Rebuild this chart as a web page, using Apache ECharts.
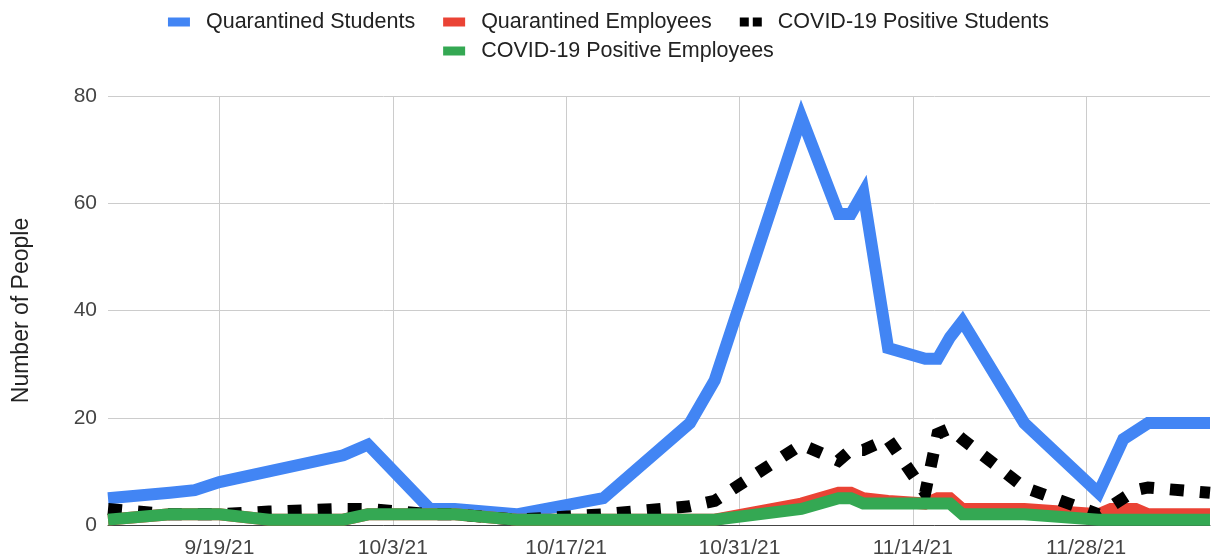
<!DOCTYPE html>
<html>
<head>
<meta charset="utf-8">
<script src="https://cdn.jsdelivr.net/npm/echarts@6/dist/echarts.min.js"></script>
<style>
  html, body { margin: 0; padding: 0; background: #fff; }
  #chart { width: 1217px; height: 560px; }
</style>
</head>
<body>
<div id="chart"></div>
<script>
// report dates
const dates = ['2021-09-10', '2021-09-15', '2021-09-17', '2021-09-19', '2021-09-23', '2021-09-29',
  '2021-10-01', '2021-10-06', '2021-10-08', '2021-10-13', '2021-10-20', '2021-10-27', '2021-10-29',
  '2021-11-05', '2021-11-08', '2021-11-09', '2021-11-10', '2021-11-12', '2021-11-15', '2021-11-16',
  '2021-11-17', '2021-11-18', '2021-11-23', '2021-11-29', '2021-11-30', '2021-12-01', '2021-12-02',
  '2021-12-03', '2021-12-08']

const quarantinedStudents = [5, 6, 6.5, 8, 10, 13, 15, 3, 3, 2, 5, 19, 27,
  76, 58, 58, 62, 33, 31, 31, 35, 38, 19, 6, 11, 16, 17.5, 19, 19]
const quarantinedEmployees = [1, 2, 2, 2, 1, 1, 2, 2, 2, 1, 1, 1, 1,
  4, 6, 6, 5, 4.5, 4, 5, 5, 3, 3, 2, 3, 3, 3, 2, 2]
const positiveStudents = [3, 2, 2, 2, 2.5, 3, 3, 2, 2, 1, 2, 3.5, 4.5,
  15, 12, 14, 14, 16, 6, 17, 18, 16, 7, 2, 3.5, 5, 6.5, 7, 6]
const positiveEmployees = [1, 2, 2, 2, 1, 1, 2, 2, 2, 1, 1, 1, 1,
  3, 5, 5, 4, 4, 4, 4, 4, 2, 2, 1, 1, 1, 1, 1, 1]

const xTicks = ['2021-09-19', '2021-10-03', '2021-10-17', '2021-10-31', '2021-11-14', '2021-11-28']
const yTicks = [0, 20, 40, 60, 80]
const xRange = ['2021-09-10', '2021-12-08']

const FONT = "'Liberation Sans', Arial, sans-serif"

function toTime(s) {
  const p = s.split('-').map(Number)
  return new Date(p[0], p[1] - 1, p[2]).getTime()
}
function pairs(values) {
  return dates.map((d, i) => [toTime(d), values[i]])
}

const chart = echarts.init(document.getElementById('chart'))

const lineBase = {
  type: 'line',
  showSymbol: false,
  symbol: 'none',
  animation: false
}

const legendText = { fontSize: 21.5, color: '#222', fontFamily: FONT, padding: [0, 0, 0, 11] }

chart.setOption({
  animation: false,
  legend: [{
    top: 6,
    left: 'center',
    itemWidth: 22,
    itemHeight: 9,
    itemGap: 28,
    textStyle: legendText,
    data: [
      { name: 'Quarantined Students', icon: 'rect' },
      { name: 'Quarantined Employees', icon: 'rect' },
      { name: 'COVID-19 Positive Students', icon: 'path://M0,0h9v9h-9z M13,0h9v9h-9z' }
    ]
  }, {
    top: 35,
    left: 'center',
    itemWidth: 22,
    itemHeight: 9,
    textStyle: legendText,
    data: [
      { name: 'COVID-19 Positive Employees', icon: 'rect' }
    ]
  }],
  grid: {
    left: 108,
    right: 7,
    top: 96,
    bottom: 35,
    containLabel: false
  },
  xAxis: {
    type: 'value',
    min: toTime(xRange[0]),
    max: toTime(xRange[1]),
    axisLine: { show: true, lineStyle: { color: '#444', width: 1 } },
    axisTick: { show: false, customValues: xTicks.map(toTime) },
    axisLabel: {
      customValues: xTicks.map(toTime),
      fontSize: 21,
      color: '#444',
      fontFamily: FONT,
      margin: 13,
      formatter: function(v) {
        const d = new Date(v)
        return (d.getMonth() + 1) + '/' + d.getDate() + '/' + String(d.getFullYear()).slice(2)
      }
    },
    splitLine: { show: true, lineStyle: { color: '#ccc', width: 1 } }
  },
  yAxis: {
    type: 'value',
    min: yTicks[0],
    max: yTicks[yTicks.length - 1],
    interval: 20,
    name: 'Number of People',
    nameLocation: 'middle',
    nameRotate: 90,
    nameGap: 75,
    nameTextStyle: { fontSize: 23, color: '#222', fontFamily: FONT },
    axisLine: { show: false },
    axisTick: { show: false },
    axisLabel: { fontSize: 21, color: '#444', fontFamily: FONT, margin: 11 },
    splitLine: { lineStyle: { color: '#ccc', width: 1 } }
  },
  series: [
    Object.assign({}, lineBase, {
      name: 'Quarantined Students',
      data: pairs(quarantinedStudents),
      itemStyle: { color: '#4285f4' },
      lineStyle: { color: '#4285f4', width: 12, join: 'miter', miterLimit: 4 }
    }),
    Object.assign({}, lineBase, {
      name: 'Quarantined Employees',
      data: pairs(quarantinedEmployees),
      itemStyle: { color: '#ea4335' },
      lineStyle: { color: '#ea4335', width: 12, join: 'miter', miterLimit: 4 }
    }),
    Object.assign({}, lineBase, {
      name: 'COVID-19 Positive Students',
      data: pairs(positiveStudents),
      itemStyle: { color: '#000' },
      lineStyle: { color: '#000', width: 12, type: [14, 16], join: 'miter', miterLimit: 4 }
    }),
    Object.assign({}, lineBase, {
      name: 'COVID-19 Positive Employees',
      data: pairs(positiveEmployees),
      itemStyle: { color: '#34a853' },
      lineStyle: { color: '#34a853', width: 12, join: 'miter', miterLimit: 4 }
    })
  ]
})
</script>
</body>
</html>
